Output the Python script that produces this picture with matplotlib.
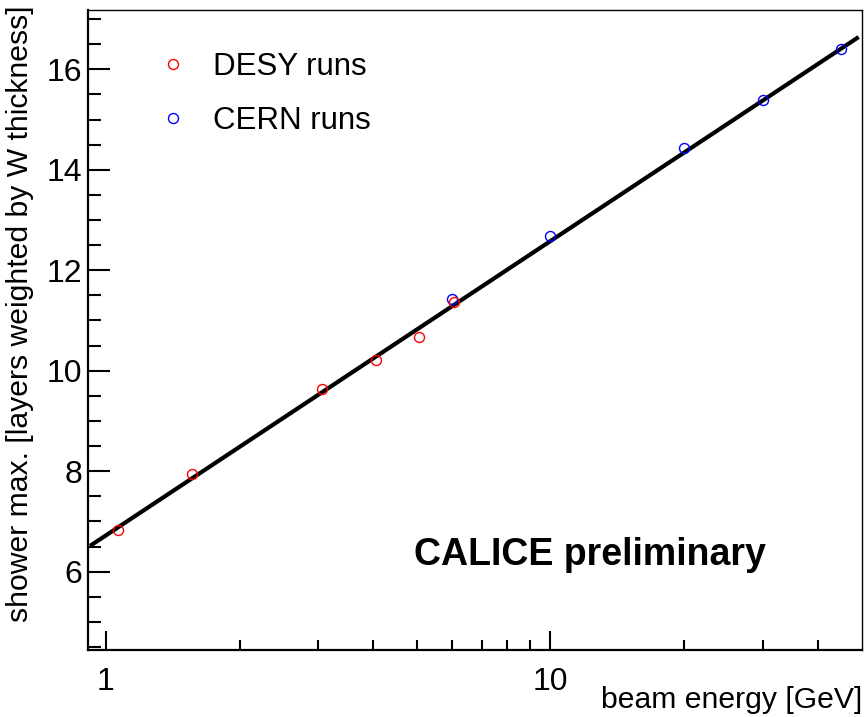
"""CALICE shower maximum vs beam energy (ROOT-style plot)."""

import numpy as np
import matplotlib.pyplot as plt
from matplotlib.ticker import FixedLocator, NullFormatter, MultipleLocator

plt.rcParams["font.family"] = ["Liberation Sans", "DejaVu Sans"]

# === data ===
desy_energy = [1.066, 1.56, 3.07, 4.05, 5.07, 6.07]
desy_showermax = [6.82, 7.94, 9.64, 10.22, 10.68, 11.36]

cern_energy = [6.0, 10.0, 20.0, 30.0, 45.1]
cern_showermax = [11.42, 12.68, 14.44, 15.38, 16.40]

# fit: showermax = fit_a + fit_b * log10(E)
fit_a = 6.72
fit_b = 5.86
fit_range = [0.93, 48.9]

x_major = [1, 10]
x_major_labels = ["1", "10"]
x_minor = [2, 3, 4, 5, 6, 7, 8, 9, 20, 30, 40]
y_major = [6, 8, 10, 12, 14, 16]

# === figure ===
fig = plt.figure(figsize=(8.64, 7.17), dpi=100)
ax = fig.add_axes([88 / 864, 1 - 650 / 717, 774 / 864, 640 / 717])

# fit line
e_line = np.logspace(np.log10(fit_range[0]), np.log10(fit_range[1]), 200)
ax.plot(e_line, fit_a + fit_b * np.log10(e_line), color="black", lw=3, zorder=2)

# points
ax.plot(cern_energy, cern_showermax, "o", mfc="none", mec="blue", ms=7.2,
        mew=1.0, zorder=3, label="CERN runs")
ax.plot(desy_energy, desy_showermax, "o", mfc="none", mec="red", ms=7.2,
        mew=1.0, zorder=4, label="DESY runs")

ax.set_xscale("log")
ax.set_xlim(0.912, 50.2)
ax.set_ylim(4.44, 17.18)

# ticks: only on left and bottom, pointing in
ax.xaxis.set_major_locator(FixedLocator(x_major))
ax.set_xticklabels(x_major_labels)
ax.xaxis.set_minor_locator(FixedLocator(x_minor))
ax.xaxis.set_minor_formatter(NullFormatter())
ax.yaxis.set_major_locator(FixedLocator(y_major))
ax.yaxis.set_minor_locator(MultipleLocator(0.5))

ax.tick_params(axis="both", which="both", direction="in", top=False, right=False,
               labelsize=23, width=1.5)
ax.tick_params(axis="x", which="major", length=14, pad=12)
ax.tick_params(axis="x", which="minor", length=7.5)
ax.tick_params(axis="y", which="major", length=16, pad=4)
ax.tick_params(axis="y", which="minor", length=9)

for side in ["left", "bottom"]:
    ax.spines[side].set_linewidth(1.6)
for side in ["top", "right"]:
    ax.spines[side].set_linewidth(1.0)

# axis titles, ROOT style (aligned to the end of the axis)
fig.text(862 / 864, 1 - 700 / 717, "beam energy [GeV]", ha="right", va="center",
         fontsize=21.7)
fig.text(20 / 864, 1 - 5 / 717, "shower max. [layers weighted by W thickness]",
         rotation=90, ha="center", va="top", fontsize=21.7)

# legend
handles, labels = ax.get_legend_handles_labels()
ax.legend(handles[::-1], labels[::-1], loc="upper left",
          bbox_to_anchor=(0.049, 0.978), frameon=False, fontsize=22.5,
          handletextpad=0.68, labelspacing=0.77, handlelength=1.2, numpoints=1)

ax.text(0.876, 0.148, "CALICE preliminary", transform=ax.transAxes,
        ha="right", va="center", fontsize=27, fontweight="bold")

fig.savefig("out.png", dpi=100)
